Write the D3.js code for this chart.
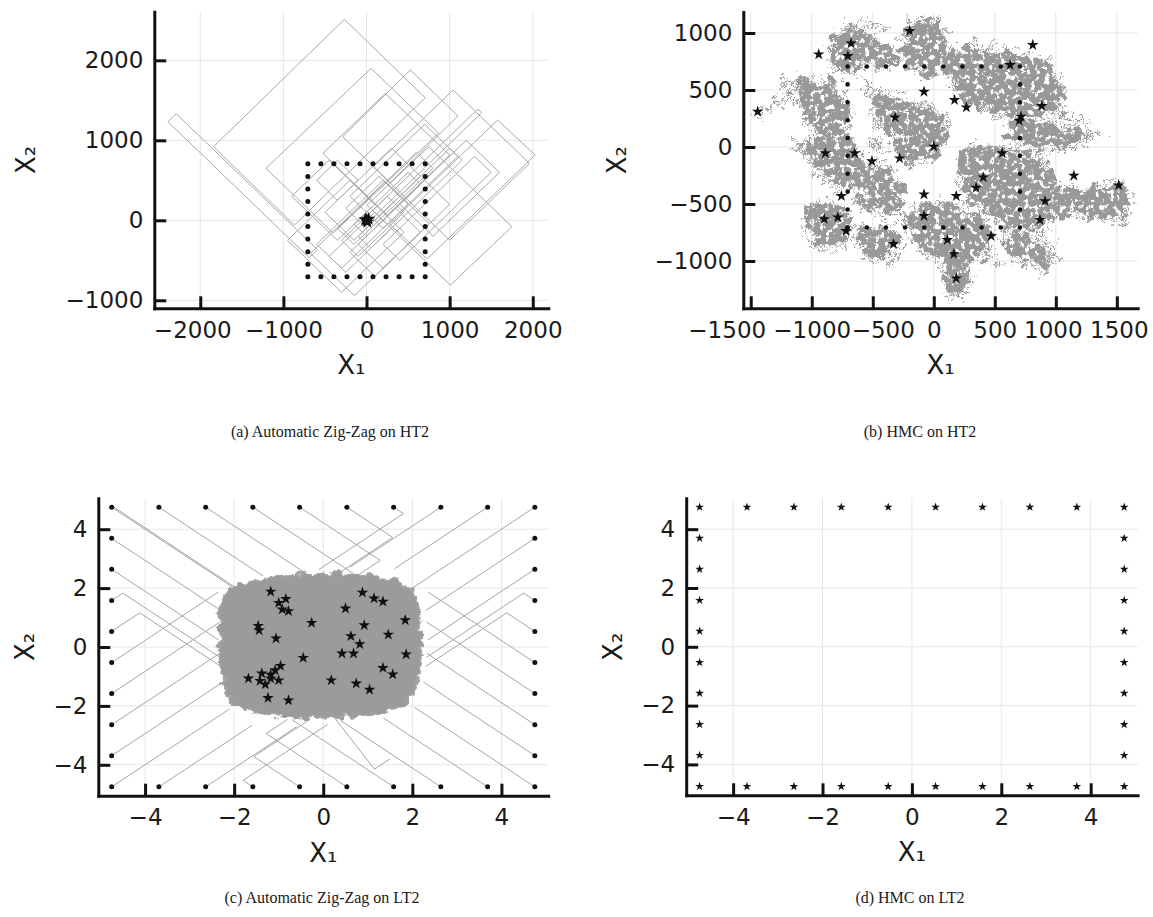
<!DOCTYPE html>
<html>
<head>
<meta charset="utf-8">
<script src="https://cdn.jsdelivr.net/npm/d3@7"></script>
<style>
  body { margin: 0; background: #fff; }
  .caption { font-family: "Liberation Serif", "Times New Roman", serif; font-size: 16px; fill: #1a1a1a; }
  .axis-title { font-family: "DejaVu Sans", sans-serif; font-size: 26px; fill: #1a1a1a; }
</style>
</head>
<body>
<svg id="fig" width="1153" height="917"></svg>
<script>
// ---- Data ----

// ticks
const ht2XTicks = [-2000, -1000, 0, 1000, 2000];
const ht2YTicks = [-1000, 0, 1000, 2000];
const hmcXTicks = [-1500, -1000, -500, 0, 500, 1000, 1500];
const hmcYTicks = [-1000, -500, 0, 500, 1000];
const lt2Ticks = [-4, -2, 0, 2, 4];

// axis limits
const zzHT2XDomain = [-2553, 2187];
const zzHT2YDomain = [-1100, 2608];
const hmcHT2XDomain = [-1561, 1671];
const hmcHT2YDomain = [-1415, 1184];
const lt2Domain = [-5.05, 5.05];

// starting points lie on the edge of a square (10 per side)
const ht2Start = [-706, -549, -392, -235, -78, 78, 235, 392, 549, 706];
const lt2Start = [-4.75, -3.69, -2.64, -1.58, -0.53, 0.53, 1.58, 2.64, 3.69, 4.75];

// (a) Zig-Zag on HT2: trajectory loops (corners)
const zzHT2Paths = [
  [[-690, -467], [-2390, 1233], [-2290, 1333], [-590, -367]],
  [[-867, -59], [-1841, 920], [-266, 2512], [706, 1533]],
  [[-400, -160], [-1210, 650], [56, 1900], [866, 1090]],
  [[82, 669], [1042, 1629], [1960, 711], [1000, -249]],
  [[8, 191], [750, 920], [1750, -80], [1008, -809]],
  [[277, -46], [1577, 1254], [2029, 816], [729, -484]],
  [[-287, 1045], [527, 1879], [1100, 1306], [286, 472]],
  [[-524, 837], [227, 1587], [1000, 814], [249, 63]],
  [[-674, -413], [-144, -943], [756, -43], [226, 487]],
  [[-950, -250], [-300, -900], [450, -150], [-200, 500]],
  [[-600, -300], [200, 500], [500, 200], [-300, -600]],
  [[-350, -100], [600, 850], [800, 650], [-150, -300]],
  [[-500, 100], [300, 900], [650, 550], [-150, -250]],
  [[-50, 0], [1340, 1390], [1385, 1345], [0, -45]],
  [[-100, -200], [1000, 900], [1150, 750], [50, -350]],
  [[100, -700], [-200, -400], [700, 500], [1000, 200]],
  [[-600, 500], [-350, 750], [-100, 500], [-350, 250]],
  [[200, -300], [1300, 800], [1500, 600], [400, -500]],
  [[-200, 300], [700, 1200], [1100, 800], [200, -100]],
  [[400, 200], [1200, 1000], [1600, 600], [800, -200]],
  [[-900, 300], [-450, 750], [100, 200], [-350, -250]],
  [[-300, -250], [250, 300], [450, 100], [-100, -450]],
  [[-150, -50], [500, 600], [650, 450], [0, -200]],
  [[-450, -450], [100, 100], [300, -100], [-250, -650]],
  [[-250, 150], [150, 550], [400, 300], [0, -100]],
  [[200, -600], [-100, -300], [350, 150], [650, -150]]
];
const zzHT2Stars = [[0, 0], [25, 15], [-15, 10], [10, -20]];

// (b) HMC on HT2: dense regions of the random walk and thin tendrils
const hmcHT2Blobs = [
  [[-800, 990], [-660, 1040], [-540, 940], [-510, 800], [-580, 710], [-700, 660], [-810, 710], [-840, 850]],
  [[-500, 880], [-360, 860], [-300, 780], [-390, 720], [-500, 740]],
  [[-1120, 540], [-950, 580], [-800, 500], [-700, 340], [-720, 160], [-850, 100], [-990, 210], [-1080, 400]],
  [[-1030, 50], [-850, 80], [-680, 60], [-600, -150], [-690, -330], [-870, -290], [-990, -150]],
  [[-1000, -530], [-850, -500], [-720, -570], [-700, -740], [-810, -880], [-960, -850], [-1030, -700]],
  [[-620, -730], [-460, -710], [-300, -790], [-310, -960], [-480, -980], [-600, -890]],
  [[-600, -220], [-460, -150], [-320, -260], [-270, -440], [-390, -580], [-550, -540], [-640, -400]],
  [[-190, 1080], [-30, 1090], [100, 940], [130, 720], [-30, 640], [-180, 720], [-240, 900]],
  [[-460, 400], [-310, 460], [-200, 340], [-220, 170], [-370, 120], [-480, 250]],
  [[-280, 280], [-120, 360], [60, 290], [80, 50], [-30, -130], [-240, -90], [-310, 100]],
  [[170, 830], [450, 860], [740, 790], [980, 640], [1030, 410], [850, 270], [510, 310], [220, 450], [120, 650]],
  [[620, 200], [900, 190], [1130, 150], [1200, 60], [1040, -10], [720, 30]],
  [[270, -60], [600, -40], [930, -160], [980, -440], [880, -700], [610, -680], [370, -540], [220, -300]],
  [[1020, -390], [1250, -390], [1480, -320], [1580, -540], [1440, -620], [1210, -590], [1020, -610]],
  [[-130, -510], [100, -530], [340, -610], [460, -790], [340, -980], [110, -1030], [-90, -890], [-160, -700]],
  [[100, -1010], [240, -1050], [280, -1240], [160, -1290], [100, -1150]],
  [[570, -770], [790, -810], [960, -990], [890, -1060], [660, -940]]
];
const hmcHT2Tendrils = [
  [[-1450, 310], [-1380, 330], [-1300, 380], [-1200, 400], [-1120, 440], [-1050, 420]],
  [[-1150, 20], [-1050, 10], [-950, -30], [-850, 0]],
  [[1050, 100], [1220, 60], [1300, 110], [1370, 90]],
  [[150, -1150], [180, -1250], [120, -1330]],
  [[850, -760], [950, -850], [1000, -980]],
  [[-650, 1050], [-550, 1080], [-450, 1060]],
  [[1450, -640], [1560, -600], [1580, -420], [1520, -330]],
  [[-150, 1040], [-50, 1080], [40, 1060]],
  [[-1250, 500], [-1150, 560], [-1100, 620]],
  [[-600, 600], [-520, 520], [-450, 430], [-380, 380]],
  [[-560, 60], [-450, 20], [-330, -20]],
  [[150, 600], [250, 520], [380, 420], [500, 330]],
  [[-300, -600], [-200, -700], [-150, -800]],
  [[1000, 300], [1120, 260], [1250, 200]],
  [[400, -900], [500, -1000], [620, -1050]]
];
const hmcHT2Stars = [
  [-1443, 310], [-943, 813], [-678, 909], [-704, 798], [-198, 1018], [811, 895], [626, 719],
  [-80, 485], [170, 412], [267, 348], [-316, 260], [885, 360], [715, 266], [0, 3],
  [-889, -55], [-648, -55], [-507, -125], [-280, -99], [561, -55], [406, -266], [347, -357],
  [184, -430], [-80, -415], [-757, -430], [1148, -251], [1515, -336], [912, -474],
  [-898, -632], [-786, -617], [-80, -605], [870, -640], [-719, -737], [-330, -851],
  [111, -816], [470, -781], [164, -939], [184, -1152], [700, 230]
];

// (c) Zig-Zag on LT2
const lt2Cloud = [
  [-2.3, 1.5], [-2.0, 2.05], [-1.6, 2.25], [-0.8, 2.4], [0, 2.5], [0.8, 2.45], [1.5, 2.3],
  [1.85, 2.1], [2.1, 1.6], [2.18, 0.8], [2.2, 0], [2.15, -0.9], [2.0, -1.6], [1.6, -2.1],
  [0.9, -2.3], [0, -2.4], [-0.9, -2.35], [-1.6, -2.15], [-2.05, -1.85], [-2.25, -1.2],
  [-2.32, -0.4], [-2.32, 0.6]
];
const zzLT2Paths = [
  [[-4.75, 4.75], [-2.05, 2.05]], [[-4.7, 4.75], [-1.95, 2.0]],
  [[-3.69, 4.75], [-1.35, 2.41]], [[-2.64, 4.75], [-0.4, 2.51]], [[-1.58, 4.75], [0.7, 2.47]],
  [[-0.53, 4.75], [1.28, 2.94], [0.8, 2.46]], [[0.53, 4.75], [1.56, 3.72], [0.3, 2.46]],
  [[1.58, 4.75], [1.8, 4.53], [-0.1, 2.63]], [[2.64, 4.75], [0.6, 2.71]],
  [[3.69, 4.75], [1.6, 2.66]], [[4.75, 4.75], [2.0, 2.0]],
  [[-4.75, 3.69], [-2.3, 1.24]], [[-4.75, 2.64], [-2.35, 0.24]],
  [[-4.75, 1.58], [-4.5, 1.83], [-2.32, -0.35]], [[-4.75, 0.53], [-4.12, 1.16], [-2.3, -0.66]],
  [[-4.75, -0.53], [-2.35, 1.87]], [[-4.75, -1.58], [-2.32, 0.85]],
  [[-4.75, -2.64], [-2.32, -0.21]], [[-4.75, -3.69], [-2.25, -1.19]], [[-4.75, -4.75], [-2.1, -2.1]],
  [[4.75, 3.69], [2.3, 1.24]], [[4.75, 2.64], [2.35, 0.24]],
  [[4.75, 1.58], [4.5, 1.83], [2.32, -0.35]], [[4.75, 0.53], [4.12, 1.16], [2.3, -0.66]],
  [[4.75, -0.53], [2.35, 1.87]], [[4.75, -1.58], [2.32, 0.85]],
  [[4.75, -2.64], [2.32, -0.21]], [[4.75, -3.69], [2.25, -1.19]], [[4.75, -4.75], [2.05, -2.05]],
  [[-3.69, -4.75], [-1.6, -2.66]], [[-2.64, -4.75], [-0.6, -2.71]],
  [[-1.58, -4.75], [-1.8, -4.53], [0.1, -2.63]], [[-0.53, -4.75], [-1.56, -3.72], [-0.3, -2.46]],
  [[0.53, -4.75], [-1.28, -2.94], [-0.8, -2.46]], [[1.58, -4.75], [-0.7, -2.47]],
  [[2.64, -4.75], [0.4, -2.51]], [[3.69, -4.75], [1.35, -2.41]],
  [[0.2, -2.3], [1.15, -4.15], [1.5, -3.8]]
];
const zzLT2Stars = [
  [-1.18, 1.88], [-1.0, 1.5], [-0.84, 1.63], [-0.92, 1.28], [-0.78, 1.22], [-1.46, 0.72],
  [-1.44, 0.57], [-1.06, 0.29], [-0.26, 0.82], [0.88, 1.85], [1.14, 1.65], [1.34, 1.54],
  [0.5, 1.31], [1.84, 0.91], [0.92, 0.74], [0.62, 0.37], [1.46, 0.42], [0.82, 0.1],
  [0.42, -0.22], [0.68, -0.22], [1.86, -0.25], [-0.45, -0.37], [-0.96, -0.64], [-1.08, -0.79],
  [-1.18, -0.94], [-1.18, -1.07], [-1.38, -0.9], [-1.42, -1.15], [-1.68, -1.07], [-1.3, -1.27],
  [-1.0, -1.13], [-1.24, -1.73], [-0.78, -1.81], [0.18, -1.13], [0.74, -1.24], [1.04, -1.45],
  [1.34, -0.71], [1.56, -0.93]
];

// ---- Drawing ----
const svg = d3.select("#fig");
const defs = svg.append("defs");

function newFilter(id) {
  return defs.append("filter").attr("id", id)
    .attr("filterUnits", "userSpaceOnUse")
    .attr("x", 0).attr("y", 0).attr("width", 1153).attr("height", 917);
}
function addRough(id, freq, octaves, seed, scale) {
  const f = newFilter(id);
  f.append("feTurbulence").attr("type", "fractalNoise").attr("baseFrequency", freq)
    .attr("numOctaves", octaves).attr("seed", seed).attr("result", "noise");
  f.append("feDisplacementMap").attr("in", "SourceGraphic").attr("in2", "noise")
    .attr("scale", scale).attr("xChannelSelector", "R").attr("yChannelSelector", "G");
}
// rough edges plus small holes, so the walk's dense regions look like a mesh
function addMesh(id) {
  const f = newFilter(id);
  f.append("feTurbulence").attr("type", "fractalNoise").attr("baseFrequency", 0.07)
    .attr("numOctaves", 4).attr("seed", 3).attr("result", "n1");
  f.append("feDisplacementMap").attr("in", "SourceGraphic").attr("in2", "n1")
    .attr("scale", 28).attr("xChannelSelector", "R").attr("yChannelSelector", "G").attr("result", "d");
  f.append("feTurbulence").attr("type", "fractalNoise").attr("baseFrequency", 0.2)
    .attr("numOctaves", 3).attr("seed", 9).attr("result", "n2");
  f.append("feColorMatrix").attr("in", "n2").attr("type", "matrix")
    .attr("values", "0 0 0 0 0  0 0 0 0 0  0 0 0 0 0  0 0 0 -12.5 8.1").attr("result", "mask");
  f.append("feComposite").attr("in", "d").attr("in2", "mask").attr("operator", "in");
}
addMesh("meshBlob");
addRough("roughFringe", 0.14, 3, 7, 30);
addRough("roughFringe2", 0.09, 3, 13, 38);
addRough("roughCloud", 0.12, 3, 11, 12);

function boundary(vals) {
  const lo = vals[0], hi = vals[vals.length - 1];
  const pts = [];
  vals.forEach(v => { pts.push([v, hi]); pts.push([v, lo]); });
  vals.slice(1, -1).forEach(v => { pts.push([lo, v]); pts.push([hi, v]); });
  return pts;
}

function makePanel(box, xDomain, yDomain, xTicks, yTicks, id) {
  const x = d3.scaleLinear().domain(xDomain).range([box.left, box.right]);
  const y = d3.scaleLinear().domain(yDomain).range([box.bottom, box.top]);
  const g = svg.append("g");
  g.append("g").selectAll("line").data(xTicks).join("line")
    .attr("x1", d => x(d)).attr("x2", d => x(d))
    .attr("y1", box.top).attr("y2", box.bottom)
    .attr("stroke", "#e6e6e6").attr("stroke-width", 1);
  g.append("g").selectAll("line").data(yTicks).join("line")
    .attr("y1", d => y(d)).attr("y2", d => y(d))
    .attr("x1", box.left).attr("x2", box.right)
    .attr("stroke", "#e6e6e6").attr("stroke-width", 1);
  defs.append("clipPath").attr("id", id).append("rect")
    .attr("x", box.left).attr("y", box.top)
    .attr("width", box.right - box.left).attr("height", box.bottom - box.top);
  const plot = g.append("g").attr("clip-path", `url(#${id})`);
  return { g, plot, x, y, box, xTicks, yTicks };
}

// labelShift: horizontal nudges of crowded x tick labels, as in the original
function drawAxes(p, yTitleX, labelShift = {}) {
  const fmt = d3.format("d");
  const ax = p.g.append("g").attr("transform", `translate(0,${p.box.bottom})`)
    .call(d3.axisBottom(p.x).tickValues(p.xTicks).tickFormat(fmt)
      .tickSizeInner(-12).tickSizeOuter(0).tickPadding(13));
  const ay = p.g.append("g").attr("transform", `translate(${p.box.left},0)`)
    .call(d3.axisLeft(p.y).tickValues(p.yTicks).tickFormat(fmt)
      .tickSizeInner(-12).tickSizeOuter(0).tickPadding(11));
  [ax, ay].forEach(a => {
    a.select(".domain").attr("stroke", "#111").attr("stroke-width", 3).attr("stroke-linecap", "square");
    a.selectAll(".tick line").attr("stroke", "#111").attr("stroke-width", 3);
    a.selectAll("text").attr("font-size", 23).attr("font-family", "DejaVu Sans").attr("fill", "#1a1a1a");
  });
  ax.selectAll(".tick text").attr("dx", d => labelShift[d] || 0);
  p.g.append("text").attr("class", "axis-title")
    .attr("x", (p.box.left + p.box.right) / 2).attr("y", p.box.bottom + 66)
    .attr("text-anchor", "middle").text("X₁");
  p.g.append("text").attr("class", "axis-title")
    .attr("transform", `translate(${yTitleX},${(p.box.top + p.box.bottom) / 2}) rotate(-90)`)
    .attr("text-anchor", "middle").text("X₂");
}

function drawDots(p, pts, r) {
  p.plot.append("g").selectAll("circle").data(pts).join("circle")
    .attr("cx", d => p.x(d[0])).attr("cy", d => p.y(d[1])).attr("r", r).attr("fill", "#111");
}
function drawStars(p, pts, size) {
  const sym = d3.symbol(d3.symbolStar, size);
  p.plot.append("g").selectAll("path").data(pts).join("path")
    .attr("transform", d => `translate(${p.x(d[0])},${p.y(d[1])})`)
    .attr("d", sym).attr("fill", "#111");
}

// (a) Automatic Zig-Zag on HT2
const pa = makePanel({ left: 154.3, right: 548.3, top: 11.7, bottom: 308.3 },
  zzHT2XDomain, zzHT2YDomain, ht2XTicks, ht2YTicks, "clipA");
const loopA = d3.line().x(d => pa.x(d[0])).y(d => pa.y(d[1])).curve(d3.curveLinearClosed);
pa.plot.append("g").selectAll("path").data(zzHT2Paths).join("path")
  .attr("d", loopA).attr("fill", "none").attr("stroke", "#a9a9a9").attr("stroke-width", 1);
drawDots(pa, boundary(ht2Start), 2.5);
drawStars(pa, zzHT2Stars, 60);
drawAxes(pa, 35, { "-2000": -8 });

// (b) HMC on HT2
const pb = makePanel({ left: 743.3, right: 1137.7, top: 12, bottom: 308.3 },
  hmcHT2XDomain, hmcHT2YDomain, hmcXTicks, hmcYTicks, "clipB");
const blobB = d3.line().x(d => pb.x(d[0])).y(d => pb.y(d[1])).curve(d3.curveCatmullRomClosed);
const tendrilB = d3.line().x(d => pb.x(d[0])).y(d => pb.y(d[1])).curve(d3.curveCatmullRom);
pb.plot.append("g").attr("filter", "url(#meshBlob)")
  .selectAll("path").data(hmcHT2Blobs).join("path")
  .attr("d", blobB).attr("fill", "#999").attr("stroke", "#999").attr("stroke-width", 2);
[["roughFringe", 1.3], ["roughFringe2", 1.1]].forEach(([fid, w]) => {
  const fr = pb.plot.append("g").attr("filter", `url(#${fid})`);
  fr.selectAll("path.o").data(hmcHT2Blobs).join("path").attr("class", "o")
    .attr("d", blobB).attr("fill", "none").attr("stroke", "#999").attr("stroke-width", w);
  fr.selectAll("path.t").data(hmcHT2Tendrils).join("path").attr("class", "t")
    .attr("d", tendrilB).attr("fill", "none").attr("stroke", "#999").attr("stroke-width", w + 0.3);
});
drawDots(pb, boundary(ht2Start), 2.3);
drawStars(pb, hmcHT2Stars, 42);
drawAxes(pb, 626, { "-1500": -24, "-500": 10, "1000": -3, "1500": 2 });

// (c) Automatic Zig-Zag on LT2
const pc = makePanel({ left: 98.3, right: 548.2, top: 498.3, bottom: 795.7 },
  lt2Domain, lt2Domain, lt2Ticks, lt2Ticks, "clipC");
const lineC = d3.line().x(d => pc.x(d[0])).y(d => pc.y(d[1]));
pc.plot.append("g").selectAll("path").data(zzLT2Paths).join("path")
  .attr("d", lineC).attr("fill", "none").attr("stroke", "#a5a5a5").attr("stroke-width", 1);
const cloudC = d3.line().x(d => pc.x(d[0])).y(d => pc.y(d[1])).curve(d3.curveCatmullRomClosed);
pc.plot.append("path").datum(lt2Cloud).attr("filter", "url(#roughCloud)")
  .attr("d", cloudC).attr("fill", "#9b9b9b").attr("stroke", "#a3a3a3").attr("stroke-width", 2);
drawDots(pc, boundary(lt2Start), 2.5);
drawStars(pc, zzLT2Stars, 42);
drawAxes(pc, 34);

// (d) HMC on LT2
const pd = makePanel({ left: 686.2, right: 1137.6, top: 498.3, bottom: 795.3 },
  lt2Domain, lt2Domain, lt2Ticks, lt2Ticks, "clipD");
drawStars(pd, boundary(lt2Start), 24);
drawAxes(pd, 622);

// captions
const captions = [
  { t: "(a) Automatic Zig-Zag on HT2", x: 330, y: 437 },
  { t: "(b) HMC on HT2", x: 920, y: 437 },
  { t: "(c) Automatic Zig-Zag on LT2", x: 322, y: 903 },
  { t: "(d) HMC on LT2", x: 910, y: 903 }
];
svg.append("g").selectAll("text").data(captions).join("text")
  .attr("class", "caption").attr("x", d => d.x).attr("y", d => d.y)
  .attr("text-anchor", "middle").text(d => d.t);
</script>
</body>
</html>
